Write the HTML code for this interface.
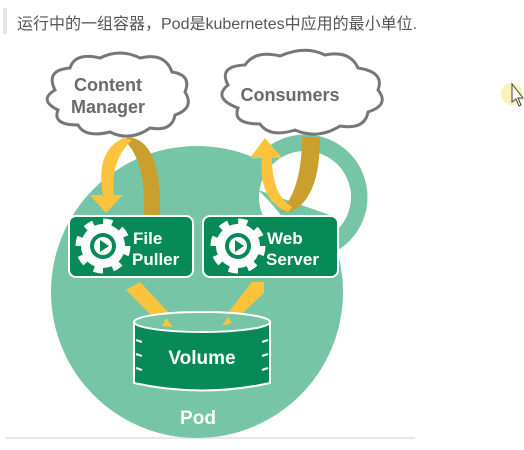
<!DOCTYPE html>
<html><head><meta charset="utf-8"><style>
body{margin:0;background:#fff;width:524px;height:450px;overflow:hidden;position:relative;font-family:"Liberation Sans","Noto Sans CJK SC",sans-serif}
.h{position:absolute;left:17px;top:10px;font-size:16px;color:#555;white-space:nowrap}
.bar{position:absolute;left:3px;top:8px;width:4px;height:26px;background:#e6e6e6}
</style></head><body>
<div class="bar"></div>
<div class="h">运行中的一组容器，Pod是kubernetes中应用的最小单位.</div>
<svg width="524" height="450" style="position:absolute;left:0;top:0">
<line x1="5" y1="438" x2="415" y2="438" stroke="#e8e8e8" stroke-width="2"/>
<circle cx="305" cy="197" r="54" fill="none" stroke="#76c5a6" stroke-width="17"/>
<circle cx="197" cy="292" r="146" fill="#76c5a6"/>
<circle cx="305" cy="197" r="46" fill="#fff"/>
<path d="M258 190 L330 215 L300 262 Q300 230 258 190Z" fill="#76c5a6"/>
<g fill="#fff" stroke="#777" stroke-width="3">
<path d="M55 90 Q45 70 70 68 Q75 52 100 58 Q120 48 140 58 Q165 52 172 72 Q192 75 185 92 Q195 108 175 115 Q172 132 150 128 Q130 142 110 132 Q85 138 78 125 Q52 125 58 110 Q38 100 55 90Z"/>
<path d="M228 85 Q218 66 245 65 Q255 50 280 56 Q305 45 325 55 Q350 50 358 68 Q385 72 378 90 Q390 105 368 112 Q365 130 340 126 Q318 140 295 130 Q270 138 260 124 Q232 124 238 108 Q212 98 228 85Z"/>
</g>
<g font-weight="bold" font-size="18" fill="#6a6a6a" text-anchor="middle">
<text x="108" y="91">Content</text><text x="108" y="113">Manager</text>
<text x="290" y="101">Consumers</text>
</g>
<path d="M128 137 Q162 140 160 216 L144 216 Q146 160 124 140Z" fill="#c9a02d"/>
<path d="M124 138 Q95 150 103 195 L90 195 L106 213 L123 195 L114 195 Q110 160 132 140Z" fill="#fcc43c"/>
<path d="M302 137 L320 137 Q320 200 290 212 L280 212 Q302 190 302 137Z" fill="#c9a02d"/>
<path d="M288 212 Q258 200 262 158 L250 158 L265 138 L282 158 L272 158 Q272 195 292 207Z" fill="#fcc43c"/>
<g stroke="#fff" stroke-width="2" fill="#078a57">
<rect x="69" y="216" width="124" height="61" rx="7"/>
<rect x="203" y="216" width="135" height="61" rx="7"/>
</g>
<g fill="#fff">
<circle cx="103" cy="246" r="22"/>
<circle cx="238" cy="246" r="22"/>
</g>
<g stroke="#fff" stroke-width="7" stroke-dasharray="9 9.85">
<circle cx="103" cy="246" r="24" fill="none"/><circle cx="238" cy="246" r="24" fill="none"/>
</g>
<g fill="#078a57"><circle cx="103" cy="246" r="13"/><circle cx="238" cy="246" r="13"/></g>
<g fill="#fff"><circle cx="103" cy="246" r="9"/><circle cx="238" cy="246" r="9"/></g>
<g fill="#078a57"><path d="M100 240 L109 246 L100 252Z"/><path d="M235 240 L244 246 L235 252Z"/></g>
<g font-weight="bold" font-size="17" fill="#fff">
<text x="133" y="244">File</text><text x="132" y="265">Puller</text>
<text x="267" y="244">Web</text><text x="266" y="265">Server</text>
</g>
<path d="M126 290 L140 282 L170 314 L173 327 L160 324Z" fill="#fcc43c"/>
<path d="M252 282 L264 282 L264 293 L232 323 L222 326 L227 314Z" fill="#fcc43c"/>
<path d="M134 322 L134 383 Q202 398 270 383 L270 322Z" fill="#078a57" stroke="#fff" stroke-width="2"/>
<ellipse cx="202" cy="322" rx="68" ry="10" fill="#76c5a6" stroke="#fff" stroke-width="2"/>
<path d="M166 318 L173 327 L162 326Z M228 317 L222 326 L232 323Z" fill="#fcc43c"/>
<g stroke="#fff" stroke-width="2"><path d="M136 340 l6 2 M136 354 l6 2 M136 368 l6 2 M268 340 l-6 2 M268 354 l-6 2 M268 368 l-6 2"/></g>
<text x="202" y="364" font-weight="bold" font-size="19" fill="#fff" text-anchor="middle">Volume</text>
<text x="198" y="424" font-weight="bold" font-size="19" fill="#fff" text-anchor="middle">Pod</text>
<circle cx="512" cy="94" r="11" fill="#fbf2b8"/>
<path d="M512 84 L512 102 L516 99 L519 106 L521 105 L518 98 L523 98Z" fill="#fff" stroke="#444" stroke-width="1"/>
</svg>
</body></html>
